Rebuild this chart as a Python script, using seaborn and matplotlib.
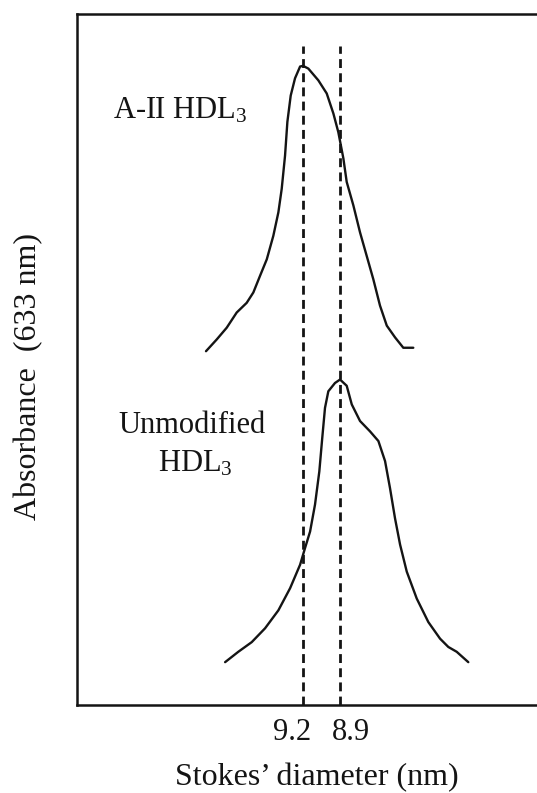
import matplotlib
matplotlib.use("Agg")
import matplotlib.pyplot as plt
from matplotlib.transforms import ScaledTranslation
import pandas as pd
import seaborn as sns

# Stokes' diameter (nm) and absorbance (arbitrary units) for each trace
a2_diameter = [9.987, 9.900, 9.819, 9.738, 9.657, 9.603, 9.549, 9.494, 9.441, 9.400,
               9.373, 9.346, 9.327, 9.300, 9.265, 9.224, 9.200, 9.157, 9.076, 9.008,
               8.954, 8.914, 8.873, 8.846, 8.792, 8.738, 8.684, 8.630, 8.576, 8.521,
               8.454, 8.387, 8.306]
a2_absorbance = [51.2, 52.9, 54.6, 56.8, 58.2, 59.7, 62.1, 64.5, 67.9, 71.3,
                 74.7, 79.5, 84.4, 88.2, 90.7, 92.4, 92.5, 92.1, 90.4, 88.5,
                 85.6, 82.9, 79.1, 75.7, 72.3, 68.4, 65.0, 61.6, 57.8, 54.9,
                 53.2, 51.7, 51.7]

unmod_diameter = [9.832, 9.725, 9.616, 9.508, 9.400, 9.305, 9.224, 9.184, 9.143, 9.103,
                  9.068, 9.044, 9.022, 8.995, 8.941, 8.900, 8.846, 8.805, 8.738, 8.657,
                  8.589, 8.535, 8.495, 8.454, 8.413, 8.359, 8.278, 8.184, 8.089, 8.022,
                  7.954, 7.860]
unmod_absorbance = [6.2, 7.7, 9.1, 11.1, 13.7, 16.9, 20.3, 22.7, 25.1, 29.0,
                    33.8, 38.7, 43.0, 45.4, 46.6, 47.1, 46.2, 43.5, 41.1, 39.6,
                    38.2, 35.3, 31.4, 27.0, 23.2, 19.3, 15.4, 12.0, 9.6, 8.4,
                    7.7, 6.2]

peak_positions = [9.2, 8.9]
tick_labels = ["9.2", "8.9"]
sample_names = ["A-II HDL$_3$", "Unmodified HDL$_3$"]

df = pd.DataFrame({
    "diameter": a2_diameter + unmod_diameter,
    "absorbance": a2_absorbance + unmod_absorbance,
    "sample": [sample_names[0]] * len(a2_diameter) + [sample_names[1]] * len(unmod_diameter),
})

sns.set_style("white")
plt.rcParams["font.family"] = ["Liberation Serif", "DejaVu Serif"]
plt.rcParams["mathtext.fontset"] = "custom"
plt.rcParams["mathtext.rm"] = "Liberation Serif"
plt.rcParams["mathtext.it"] = "Liberation Serif:italic"
plt.rcParams["mathtext.default"] = "rm"

ink = "#141414"
fs_text = 22
fs_label = 23

fig = plt.figure(figsize=(5.37, 7.93), dpi=100)
ax = fig.add_axes([77 / 537, 88 / 793, 468 / 537, 691 / 793])

sns.lineplot(data=df, x="diameter", y="absorbance", hue="sample", units="sample",
             estimator=None, sort=False, palette=[ink, ink], linewidth=1.7,
             legend=False, ax=ax)
for line in ax.lines:
    line.set_solid_joinstyle("round")
    line.set_solid_capstyle("round")

ax.vlines(peak_positions, 0, 95.4, colors=ink, linewidth=2.0,
          linestyles=(0, (3.2, 1.9)))

ax.set_xlim(11.033, 7.238)
ax.set_ylim(0, 100)

ax.set_xticks(peak_positions)
ax.set_xticklabels(tick_labels, fontsize=fs_text, color=ink)
ax.set_yticks([])
ax.tick_params(axis="x", length=0, pad=9.5)
for lab, dx in zip(ax.get_xticklabels(), [-11, 11]):
    lab.set_transform(lab.get_transform() + ScaledTranslation(dx / 100, 0, fig.dpi_scale_trans))

ax.set_xlabel("Stokes\u2019 diameter (nm)", fontsize=fs_label, color=ink)
ax.xaxis.set_label_coords(0.513, -0.084)
ax.set_ylabel("Absorbance  (633 nm)", fontsize=fs_label, color=ink)
ax.yaxis.label.set_va("center")
ax.yaxis.set_label_coords(-0.1026, 0.476)

for side in ["left", "bottom", "top", "right"]:
    ax.spines[side].set_color(ink)
    ax.spines[side].set_linewidth(1.8)

ax.text(10.741, 84.9, sample_names[0], fontsize=fs_text, color=ink, ha="left", va="baseline")
ax.text(10.100, 39.33, "Unmodified", fontsize=fs_text, color=ink, ha="center", va="baseline")
ax.text(10.076, 33.82, "HDL$_3$", fontsize=fs_text, color=ink, ha="center", va="baseline")

fig.savefig("out.png", dpi=100, facecolor="white")
